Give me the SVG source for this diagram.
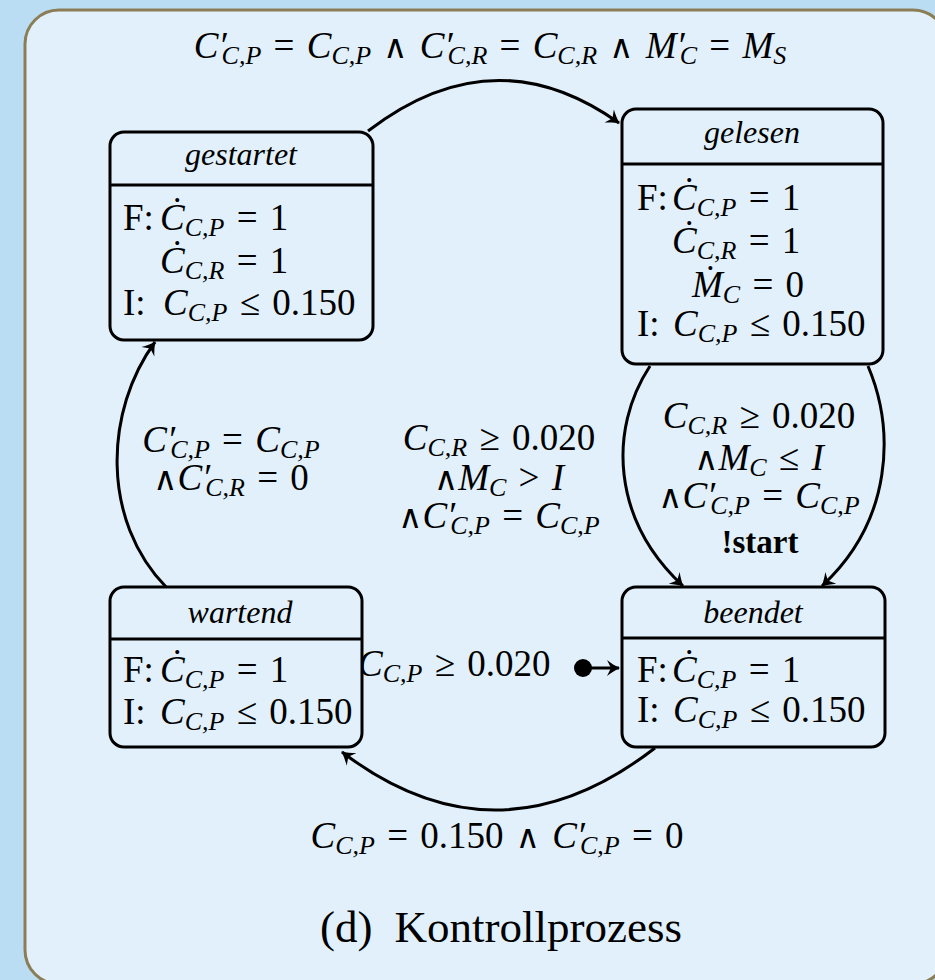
<svg xmlns="http://www.w3.org/2000/svg" width="935" height="980" viewBox="0 0 935 980">
<defs>
<style>
.t{font-family:"Liberation Serif","DejaVu Serif",serif;font-size:37px;word-spacing:3px;fill:#000}
.it{font-style:italic}
.sub{font-size:26px}
.w{font-family:"DejaVu Sans",sans-serif;font-size:33px;font-weight:normal}
.ttl{font-family:"Liberation Serif","DejaVu Serif",serif;font-size:32px;font-style:italic;fill:#000}
.box{fill:#E2F0FB;stroke:#000;stroke-width:3}
.div{stroke:#000;stroke-width:3}
.edge{fill:none;stroke:#000;stroke-width:3}
</style>
<marker id="ah" markerUnits="userSpaceOnUse" viewBox="-14 -9 16 18" refX="0" refY="0" markerWidth="16" markerHeight="18" orient="auto">
<path d="M1,0 C-4,-2 -8,-5 -12,-8 L-8,0 L-12,8 C-8,5 -4,2 1,0 Z" fill="#000"/>
</marker>
</defs>
<rect x="0" y="0" width="935" height="980" fill="#BADDF4"/>
<rect x="25" y="10" width="922" height="974" rx="34" fill="#E2F0FB" stroke="#8B7E56" stroke-width="3"/>

<g id="connectors">
<path class="edge" d="M368,131 Q494,34 619,123" marker-end="url(#ah)"/>
<path class="edge" d="M650,366 C608,430 612,520 683,586" marker-end="url(#ah)"/>
<path class="edge" d="M868,366 C895,430 893,520 822,586" marker-end="url(#ah)"/>
<path class="edge" d="M655,748 Q497,870 342,752" marker-end="url(#ah)"/>
<path class="edge" d="M167,588 C100,520 105,410 155,342" marker-end="url(#ah)"/>
<circle cx="583" cy="668" r="9" fill="#000"/>
<path class="edge" d="M583,668 L619,668" marker-end="url(#ah)"/>
</g>

<g id="labels">
<text class="t" x="490" y="58" text-anchor="middle"><tspan class="it">C′</tspan><tspan class="it sub" dy="6" dx="-5">C,P</tspan><tspan dy="-6"> = </tspan><tspan class="it">C</tspan><tspan class="it sub" dy="6">C,P</tspan><tspan dy="-6"> <tspan class="w">∧</tspan> </tspan><tspan class="it">C′</tspan><tspan class="it sub" dy="6" dx="-5">C,R</tspan><tspan dy="-6"> = </tspan><tspan class="it">C</tspan><tspan class="it sub" dy="6">C,R</tspan><tspan dy="-6"> <tspan class="w">∧</tspan> </tspan><tspan class="it">M′</tspan><tspan class="it sub" dy="6" dx="-5">C</tspan><tspan dy="-6"> = </tspan><tspan class="it">M</tspan><tspan class="it sub" dy="6">S</tspan></text>

<text class="t" x="231" y="452" text-anchor="middle"><tspan class="it">C′</tspan><tspan class="it sub" dy="6" dx="-5">C,P</tspan><tspan dy="-6"> = </tspan><tspan class="it">C</tspan><tspan class="it sub" dy="6">C,P</tspan></text>
<text class="t" x="231" y="490" text-anchor="middle"><tspan class="w">∧</tspan><tspan class="it">C′</tspan><tspan class="it sub" dy="6" dx="-5">C,R</tspan><tspan dy="-6"> = 0</tspan></text>

<text class="t" x="499" y="450" text-anchor="middle"><tspan class="it">C</tspan><tspan class="it sub" dy="6">C,R</tspan><tspan dy="-6"> ≥ 0.020</tspan></text>
<text class="t" x="499" y="490" text-anchor="middle"><tspan class="w">∧</tspan><tspan class="it">M</tspan><tspan class="it sub" dy="6">C</tspan><tspan dy="-6"> &gt; </tspan><tspan class="it">I</tspan></text>
<text class="t" x="499" y="528" text-anchor="middle"><tspan class="w">∧</tspan><tspan class="it">C′</tspan><tspan class="it sub" dy="6" dx="-5">C,P</tspan><tspan dy="-6"> = </tspan><tspan class="it">C</tspan><tspan class="it sub" dy="6">C,P</tspan></text>

<text class="t" x="759" y="428" text-anchor="middle"><tspan class="it">C</tspan><tspan class="it sub" dy="6">C,R</tspan><tspan dy="-6"> ≥ 0.020</tspan></text>
<text class="t" x="759" y="470" text-anchor="middle"><tspan class="w">∧</tspan><tspan class="it">M</tspan><tspan class="it sub" dy="6">C</tspan><tspan dy="-6"> ≤ </tspan><tspan class="it">I</tspan></text>
<text class="t" x="759" y="508" text-anchor="middle"><tspan class="w">∧</tspan><tspan class="it">C′</tspan><tspan class="it sub" dy="6" dx="-5">C,P</tspan><tspan dy="-6"> = </tspan><tspan class="it">C</tspan><tspan class="it sub" dy="6">C,P</tspan></text>
<text class="t" x="760" y="553" text-anchor="middle" font-weight="bold" style="font-size:33px">!start</text>

<text class="t" x="358" y="676"><tspan class="it">C</tspan><tspan class="it sub" dy="6">C,P</tspan><tspan dy="-6"> ≥ 0.020</tspan></text>

<text class="t" x="497" y="848" text-anchor="middle"><tspan class="it">C</tspan><tspan class="it sub" dy="6">C,P</tspan><tspan dy="-6"> = 0.150 <tspan class="w">∧</tspan> </tspan><tspan class="it">C′</tspan><tspan class="it sub" dy="6" dx="-5">C,P</tspan><tspan dy="-6"> = 0</tspan></text>

<text x="501" y="942" text-anchor="middle" font-family="Liberation Serif, serif" font-size="45">(d)<tspan dx="22">Kontrollprozess</tspan></text>
</g>

<g id="gestartet">
<rect class="box" x="110" y="132" width="263" height="208" rx="14"/>
<line class="div" x1="110" y1="185" x2="373" y2="185"/>
<text class="ttl" x="241" y="165" text-anchor="middle">gestartet</text>
<text class="t" x="123" y="230">F:</text>
<text class="t" x="160" y="230"><tspan class="it">Ċ</tspan><tspan class="it sub" dy="6">C,P</tspan><tspan dy="-6"> = 1</tspan></text>
<text class="t" x="160" y="273"><tspan class="it">Ċ</tspan><tspan class="it sub" dy="6">C,R</tspan><tspan dy="-6"> = 1</tspan></text>
<text class="t" x="123" y="315">I:</text>
<text class="t" x="163" y="315"><tspan class="it">C</tspan><tspan class="it sub" dy="6">C,P</tspan><tspan dy="-6"> ≤ 0.150</tspan></text>
</g>

<g id="gelesen">
<rect class="box" x="622" y="109" width="261" height="255" rx="14"/>
<line class="div" x1="622" y1="164" x2="883" y2="164"/>
<text class="ttl" x="752" y="143" text-anchor="middle">gelesen</text>
<text class="t" x="637" y="210">F:</text>
<text class="t" x="672" y="210"><tspan class="it">Ċ</tspan><tspan class="it sub" dy="6">C,P</tspan><tspan dy="-6"> = 1</tspan></text>
<text class="t" x="672" y="253"><tspan class="it">Ċ</tspan><tspan class="it sub" dy="6">C,R</tspan><tspan dy="-6"> = 1</tspan></text>
<text class="t" x="692" y="297"><tspan class="it">Ṁ</tspan><tspan class="it sub" dy="6">C</tspan><tspan dy="-6"> = 0</tspan></text>
<text class="t" x="637" y="336">I:</text>
<text class="t" x="673" y="336"><tspan class="it">C</tspan><tspan class="it sub" dy="6">C,P</tspan><tspan dy="-6"> ≤ 0.150</tspan></text>
</g>

<g id="wartend">
<rect class="box" x="110" y="587" width="252" height="160" rx="14"/>
<line class="div" x1="110" y1="639" x2="362" y2="639"/>
<text class="ttl" x="240" y="623" text-anchor="middle">wartend</text>
<text class="t" x="123" y="682">F:</text>
<text class="t" x="160" y="682"><tspan class="it">Ċ</tspan><tspan class="it sub" dy="6">C,P</tspan><tspan dy="-6"> = 1</tspan></text>
<text class="t" x="123" y="724">I:</text>
<text class="t" x="160" y="724"><tspan class="it">C</tspan><tspan class="it sub" dy="6">C,P</tspan><tspan dy="-6"> ≤ 0.150</tspan></text>
</g>

<g id="beendet">
<rect class="box" x="622" y="587" width="263" height="160" rx="14"/>
<line class="div" x1="622" y1="638" x2="885" y2="638"/>
<text class="ttl" x="753" y="623" text-anchor="middle">beendet</text>
<text class="t" x="637" y="682">F:</text>
<text class="t" x="672" y="682"><tspan class="it">Ċ</tspan><tspan class="it sub" dy="6">C,P</tspan><tspan dy="-6"> = 1</tspan></text>
<text class="t" x="637" y="722">I:</text>
<text class="t" x="673" y="722"><tspan class="it">C</tspan><tspan class="it sub" dy="6">C,P</tspan><tspan dy="-6"> ≤ 0.150</tspan></text>
</g>
</svg>
